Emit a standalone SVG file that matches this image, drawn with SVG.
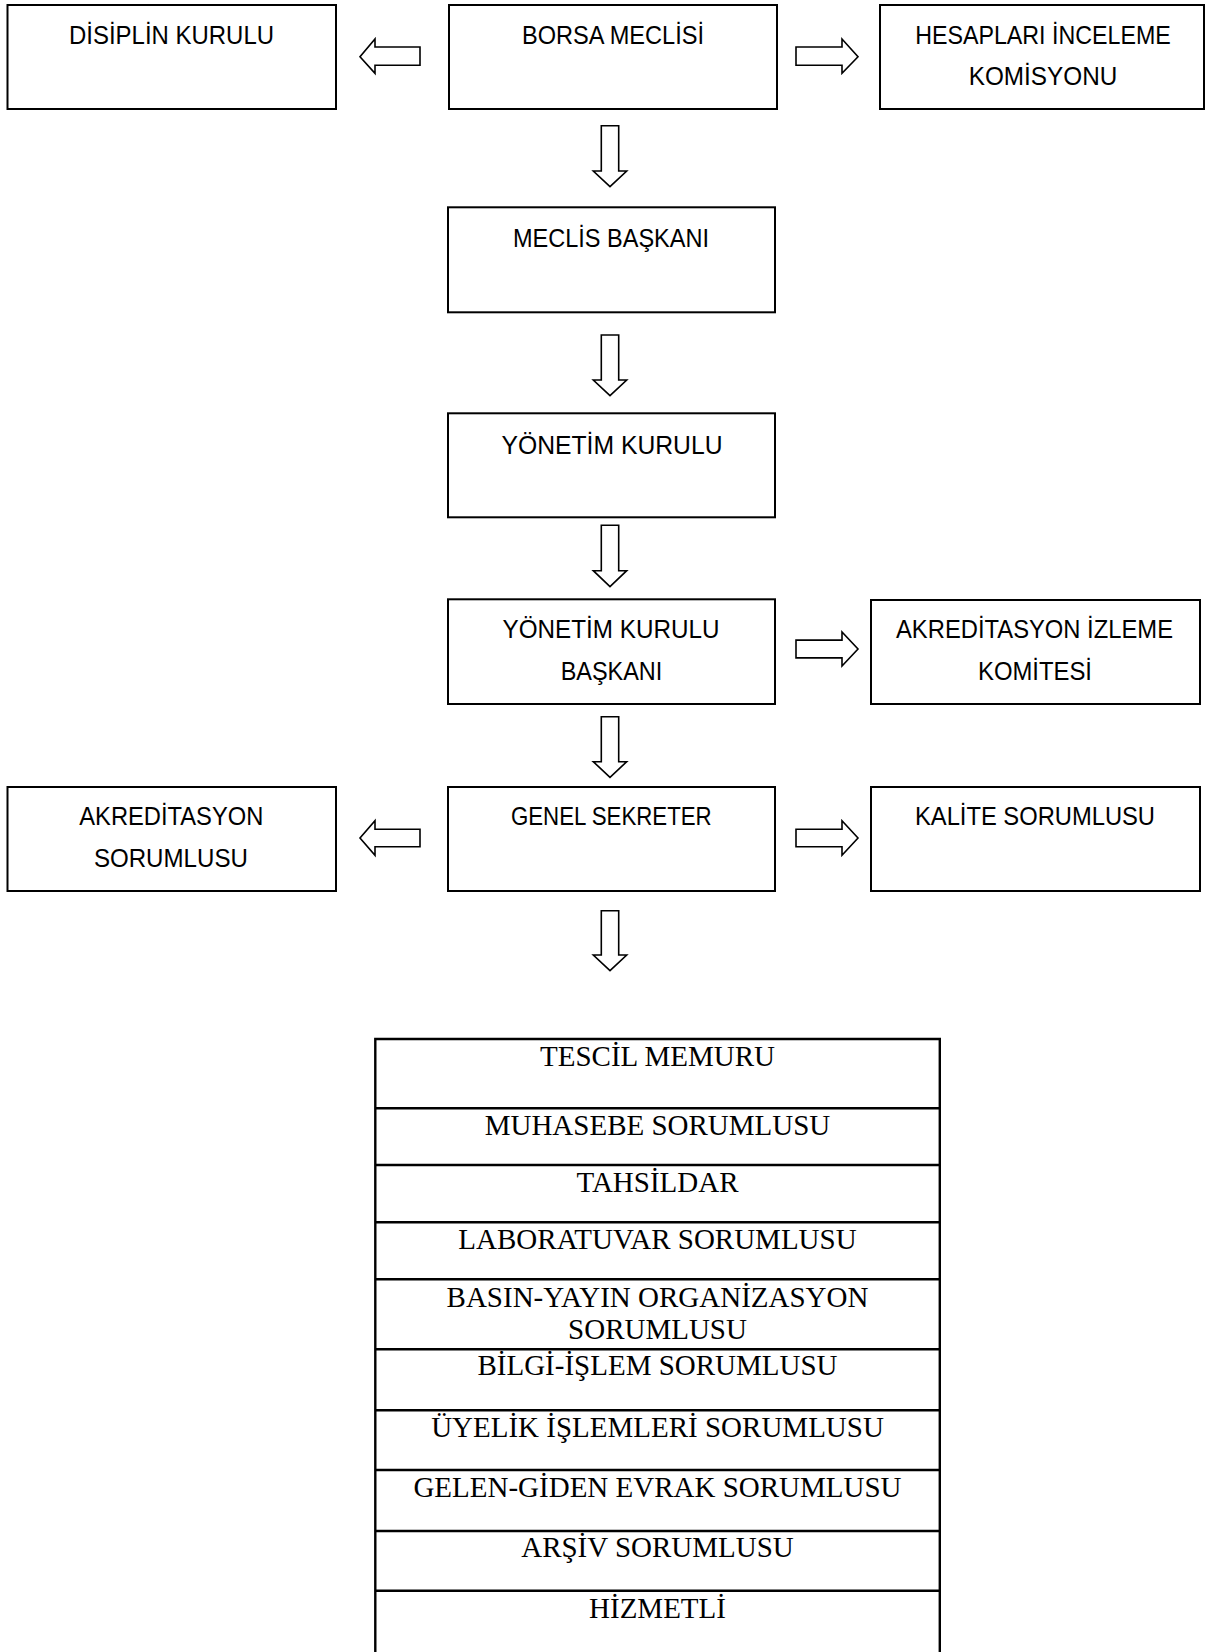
<svg xmlns="http://www.w3.org/2000/svg" width="1205" height="1652" viewBox="0 0 1205 1652">
<style>
.box{fill:#fff;stroke:#000;stroke-width:2}
.arr{fill:#fff;stroke:#000;stroke-width:1.6;stroke-linejoin:miter}
.t{font-family:"Liberation Sans",Arial,sans-serif;font-size:26px;fill:#000;text-anchor:middle}
.s{font-family:"Liberation Serif","Times New Roman",serif;font-size:29px;fill:#000;text-anchor:middle}
.ln{stroke:#000;stroke-width:2.4;fill:none}
</style>
<rect x="0" y="0" width="1205" height="1652" fill="#fff"/>
<g id="connectors">
<polygon class="arr" points="420,47 375,47 375,39 360,56.7 375,73.3 375,65.3 420,65.3"/>
<polygon class="arr" points="796,47 842,47 842,39 858,56.7 842,73.3 842,65.3 796,65.3"/>
<polygon class="arr" points="601.3,125.7 618.7,125.7 618.7,171 626.7,171 610,186.7 593.3,171 601.3,171"/>
<polygon class="arr" points="601.3,335 618.7,335 618.7,380 626.7,380 610,395.7 593.3,380 601.3,380"/>
<polygon class="arr" points="601.3,525.3 618.7,525.3 618.7,570.7 626.7,570.7 610,586.7 593.3,570.7 601.3,570.7"/>
<polygon class="arr" points="796,640.1 842,640.1 842,632 858,649 842,666 842,657.9 796,657.9"/>
<polygon class="arr" points="601.3,716.7 618.7,716.7 618.7,761.7 626.7,761.7 610,777.3 593.3,761.7 601.3,761.7"/>
<polygon class="arr" points="420,829.3 375,829.3 375,820.7 360,838 375,855.3 375,846.7 420,846.7"/>
<polygon class="arr" points="796,829.3 842,829.3 842,820.7 858,838 842,855.3 842,846.7 796,846.7"/>
<polygon class="arr" points="601.3,910.7 618.7,910.7 618.7,955 626.7,955 610,970.7 593.3,955 601.3,955"/>
</g>
<g id="disiplin">
<rect class="box" x="7.5" y="5" width="328.5" height="104"/>
<text class="t" x="171.5" y="44" textLength="205" lengthAdjust="spacingAndGlyphs">DİSİPLİN KURULU</text>
</g>
<g id="borsa">
<rect class="box" x="449" y="5" width="328" height="104"/>
<text class="t" x="613" y="44" textLength="182" lengthAdjust="spacingAndGlyphs">BORSA MECLİSİ</text>
</g>
<g id="hesaplari">
<rect class="box" x="880" y="5" width="324" height="104"/>
<text class="t" x="1043" y="44" textLength="255.6" lengthAdjust="spacingAndGlyphs">HESAPLARI İNCELEME</text>
<text class="t" x="1043" y="85" textLength="148.5" lengthAdjust="spacingAndGlyphs">KOMİSYONU</text>
</g>
<g id="meclis-baskani">
<rect class="box" x="448" y="207.3" width="327" height="105"/>
<text class="t" x="611" y="247.3" textLength="196" lengthAdjust="spacingAndGlyphs">MECLİS BAŞKANI</text>
</g>
<g id="yonetim-kurulu">
<rect class="box" x="448" y="413.3" width="327" height="104"/>
<text class="t" x="612" y="454" textLength="221" lengthAdjust="spacingAndGlyphs">YÖNETİM KURULU</text>
</g>
<g id="yk-baskani">
<rect class="box" x="448" y="599.3" width="327" height="104.7"/>
<text class="t" x="611" y="638.3" textLength="217" lengthAdjust="spacingAndGlyphs">YÖNETİM KURULU</text>
<text class="t" x="611.5" y="680" textLength="101.7" lengthAdjust="spacingAndGlyphs">BAŞKANI</text>
</g>
<g id="akreditasyon-izleme">
<rect class="box" x="871" y="600" width="329" height="104"/>
<text class="t" x="1034.5" y="638.3" textLength="277" lengthAdjust="spacingAndGlyphs">AKREDİTASYON İZLEME</text>
<text class="t" x="1035" y="680" textLength="114" lengthAdjust="spacingAndGlyphs">KOMİTESİ</text>
</g>
<g id="akreditasyon-sorumlusu">
<rect class="box" x="7.5" y="787" width="328.5" height="104"/>
<text class="t" x="171.3" y="825" textLength="184" lengthAdjust="spacingAndGlyphs">AKREDİTASYON</text>
<text class="t" x="170.9" y="866.7" textLength="154" lengthAdjust="spacingAndGlyphs">SORUMLUSU</text>
</g>
<g id="genel-sekreter">
<rect class="box" x="448" y="787" width="327" height="104"/>
<text class="t" x="611.3" y="825" textLength="200.8" lengthAdjust="spacingAndGlyphs">GENEL SEKRETER</text>
</g>
<g id="kalite">
<rect class="box" x="871" y="787" width="329" height="104"/>
<text class="t" x="1035" y="825" textLength="240" lengthAdjust="spacingAndGlyphs">KALİTE SORUMLUSU</text>
</g>
<g id="staff-table">
<path class="ln" d="M375.3,1652 V1039 H939.8 V1652 M375.3,1108.3 H939.8 M375.3,1165 H939.8 M375.3,1222.3 H939.8 M375.3,1279.3 H939.8 M375.3,1349.3 H939.8 M375.3,1410.3 H939.8 M375.3,1470 H939.8 M375.3,1531 H939.8 M375.3,1590.7 H939.8"/>
<text class="s" x="657.5" y="1065.7">TESCİL MEMURU</text>
<text class="s" x="657.5" y="1135">MUHASEBE SORUMLUSU</text>
<text class="s" x="657.5" y="1192.3">TAHSİLDAR</text>
<text class="s" x="657.5" y="1249.3">LABORATUVAR SORUMLUSU</text>
<text class="s" x="657.5" y="1307.3">BASIN-YAYIN ORGANİZASYON</text>
<text class="s" x="657.5" y="1339">SORUMLUSU</text>
<text class="s" x="657.5" y="1375">BİLGİ-İŞLEM SORUMLUSU</text>
<text class="s" x="657.5" y="1436.7">ÜYELİK İŞLEMLERİ SORUMLUSU</text>
<text class="s" x="657.5" y="1496.7">GELEN-GİDEN EVRAK SORUMLUSU</text>
<text class="s" x="657.5" y="1557.3">ARŞİV SORUMLUSU</text>
<text class="s" x="657.5" y="1617.7">HİZMETLİ</text>
</g>
</svg>
